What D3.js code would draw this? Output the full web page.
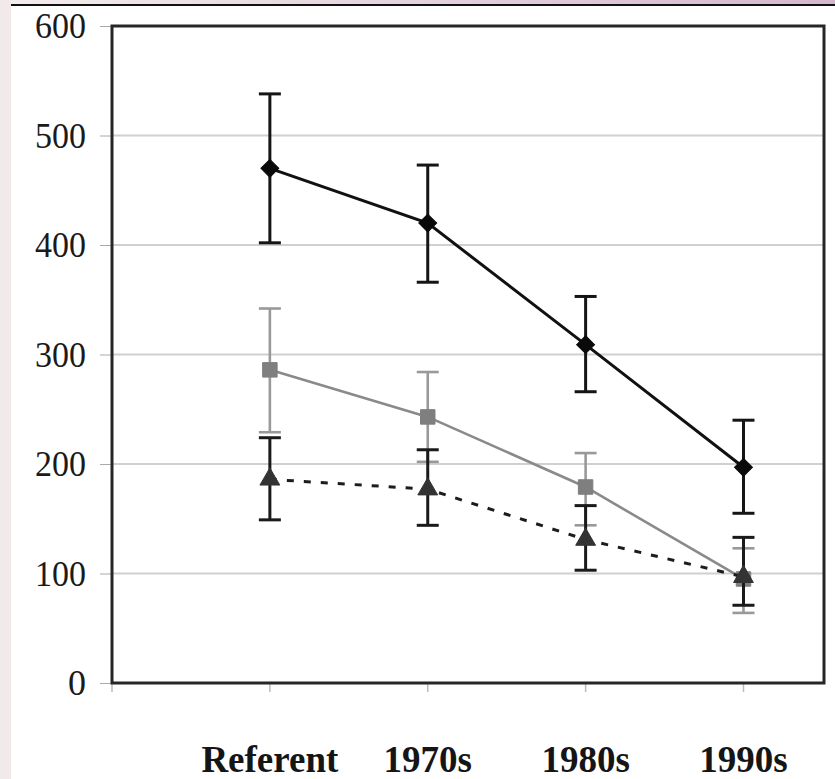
<!DOCTYPE html>
<html>
<head>
<meta charset="utf-8">
<script src="https://cdn.jsdelivr.net/npm/d3@7"></script>
<style>
  body { margin: 0; background: #fff; }
  svg { display: block; }
</style>
</head>
<body>
<div id="chart"></div>
<script>
var categories = ["Referent", "1970s", "1980s", "1990s"];
var yTicks = [0, 100, 200, 300, 400, 500, 600];

// black diamonds
var diamondMean = [470, 420, 309, 197];
var diamondHigh = [538, 473, 353, 240];
var diamondLow  = [402, 366, 266, 155];
// grey squares
var squareMean = [286, 243, 179, 95];
var squareHigh = [342, 284, 210, 123];
var squareLow  = [229, 202, 144, 64];
// dark triangles, dotted line
var triMean = [186, 177, 131, 97];
var triHigh = [224, 213, 162, 133];
var triLow  = [149, 144, 103, 71];

var W = 835, H = 779,
    plotLeft = 112, plotRight = 824, plotTop = 26, plotBottom = 683;

var svg = d3.select("#chart").append("svg")
    .attr("width", W)
    .attr("height", H);

// scan-like page edges
var grad = svg.append("defs").append("linearGradient")
    .attr("id", "band").attr("x1", 0).attr("x2", 1);
grad.append("stop").attr("offset", 0).attr("stop-color", "#f3eded");
grad.append("stop").attr("offset", 1).attr("stop-color", "#d5b7cd");
svg.append("rect").attr("x", 0).attr("y", 0).attr("width", W).attr("height", 4)
    .attr("fill", "url(#band)");
svg.append("rect").attr("x", 0).attr("y", 0).attr("width", 11).attr("height", H)
    .attr("fill", "#f2eaea");
svg.append("line").attr("x1", 11).attr("x2", W).attr("y1", 5).attr("y2", 5)
    .attr("stroke", "#111").attr("stroke-width", 2);

var x = d3.scaleLinear().domain([-1, 3.51]).range([plotLeft, plotRight]);
var y = d3.scaleLinear().domain([0, 600]).range([plotBottom, plotTop]);

// gridlines
svg.append("g").selectAll("line")
    .data(yTicks.filter(function(d) { return d > 0 && d < 600; }))
  .enter().append("line")
    .attr("x1", plotLeft).attr("x2", plotRight)
    .attr("y1", function(d) { return y(d); })
    .attr("y2", function(d) { return y(d); })
    .attr("stroke", "#d0d0d0")
    .attr("stroke-width", 2.2);

// y axis
var yAxis = svg.append("g")
    .attr("transform", "translate(" + plotLeft + ",0)")
    .call(d3.axisLeft(y).tickValues(yTicks).tickSize(12).tickPadding(14));
yAxis.select(".domain").remove();
yAxis.selectAll(".tick line").attr("stroke", "#aaa").attr("stroke-width", 1);
yAxis.selectAll(".tick text")
    .attr("fill", "#1a1a1a")
    .style("font-family", "'Liberation Serif', 'DejaVu Serif', serif")
    .style("font-size", "36px")
    .attr("textLength", 51)
    .attr("lengthAdjust", "spacingAndGlyphs");
yAxis.selectAll(".tick text").filter(function(d) { return d === 0; })
    .attr("textLength", null);

// x ticks under the frame
var xTicks = [-1, 0, 1, 2, 3];
svg.append("g").selectAll("line")
    .data(xTicks)
  .enter().append("line")
    .attr("x1", function(d) { return x(d); })
    .attr("x2", function(d) { return x(d); })
    .attr("y1", plotBottom).attr("y2", plotBottom + 9)
    .attr("stroke", "#bbb").attr("stroke-width", 1.5);

// x labels
svg.append("g").selectAll("text")
    .data(categories)
  .enter().append("text")
    .attr("x", function(d, i) { return x(i); })
    .attr("y", 772)
    .attr("text-anchor", "middle")
    .attr("fill", "#151515")
    .style("font-family", "'Liberation Serif', 'DejaVu Serif', serif")
    .style("font-weight", "bold")
    .style("font-size", "37px")
    .text(function(d) { return d; });

// plot frame
svg.append("rect")
    .attr("x", plotLeft).attr("y", plotTop)
    .attr("width", plotRight - plotLeft).attr("height", plotBottom - plotTop)
    .attr("fill", "none")
    .attr("stroke", "#262626")
    .attr("stroke-width", 3);

function series(mean, high, low, opt) {
  var g = svg.append("g");
  var pts = mean.map(function(v, i) { return [x(i), y(v)]; });

  g.append("path")
    .attr("d", d3.line()(pts))
    .attr("fill", "none")
    .attr("stroke", opt.line)
    .attr("stroke-width", opt.width)
    .attr("stroke-dasharray", opt.dash || null);

  mean.forEach(function(v, i) {
    var cx = x(i), hi = y(high[i]), lo = y(low[i]);
    g.append("line").attr("x1", cx).attr("x2", cx).attr("y1", hi).attr("y2", lo)
      .attr("stroke", opt.bar).attr("stroke-width", opt.barWidth);
    [hi, lo].forEach(function(yy) {
      g.append("line").attr("x1", cx - 11).attr("x2", cx + 11).attr("y1", yy).attr("y2", yy)
        .attr("stroke", opt.bar).attr("stroke-width", opt.barWidth);
    });
  });

  g.selectAll("path.mark")
    .data(pts)
  .enter().append("path")
    .attr("class", "mark")
    .attr("transform", function(d) { return "translate(" + d[0] + "," + d[1] + ")" + (opt.rotate ? " rotate(45)" : ""); })
    .attr("d", d3.symbol().type(opt.symbol).size(opt.size))
    .attr("fill", opt.fill)
    .attr("stroke", opt.fill)
    .attr("stroke-width", 1);
}

series(squareMean, squareHigh, squareLow, {
  line: "#8a8a8a", width: 2.6, bar: "#999", barWidth: 2.6,
  symbol: d3.symbolSquare, size: 210, fill: "#7f7f7f"
});
series(triMean, triHigh, triLow, {
  line: "#1c1c1c", width: 3, dash: "7,10", bar: "#1a1a1a", barWidth: 3,
  symbol: d3.symbolTriangle, size: 170, fill: "#333"
});
series(diamondMean, diamondHigh, diamondLow, {
  line: "#111", width: 3, bar: "#151515", barWidth: 3,
  symbol: d3.symbolSquare, size: 160, fill: "#0a0a0a", rotate: true
});
</script>
</body>
</html>
